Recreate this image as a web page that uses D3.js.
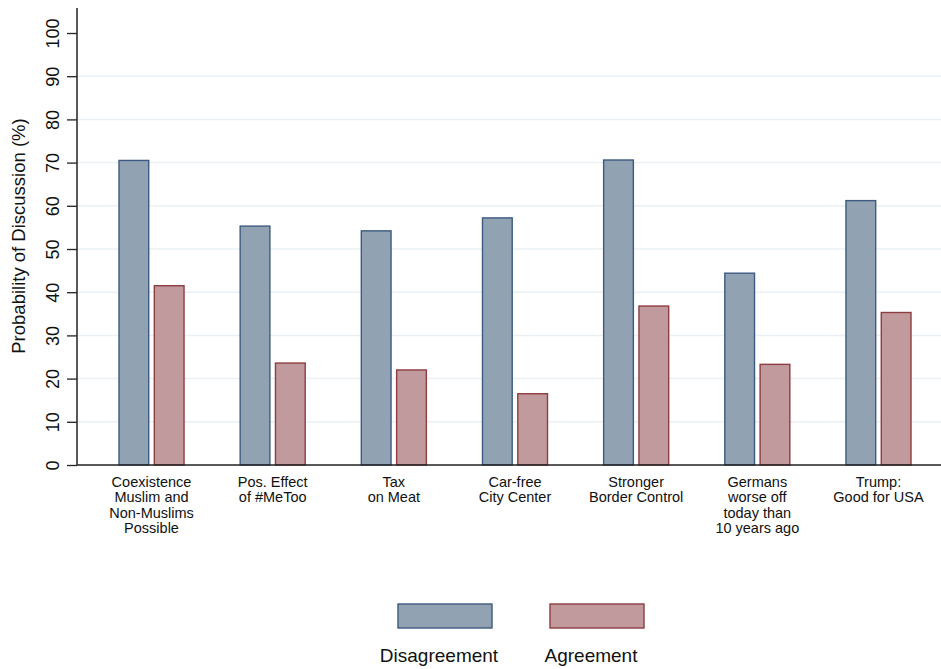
<!DOCTYPE html>
<html>
<head>
<meta charset="utf-8">
<script src="https://cdn.jsdelivr.net/npm/d3@7"></script>
<style>
  body { margin: 0; background: #fff; }
  svg { display: block; font-family: "Liberation Sans", Arial, Helvetica, sans-serif; }
</style>
</head>
<body>
<svg id="chart" width="941" height="669"></svg>
<script>
const categories = [
  ["Coexistence", "Muslim and", "Non-Muslims", "Possible"],
  ["Pos. Effect", "of #MeToo"],
  ["Tax", "on Meat"],
  ["Car-free", "City Center"],
  ["Stronger", "Border Control"],
  ["Germans", "worse off", "today than", "10 years ago"],
  ["Trump:", "Good for USA"]
];
const disagreement = [70.5, 55.3, 54.2, 57.2, 70.6, 44.4, 61.2];
const agreement = [41.5, 23.6, 22.0, 16.5, 36.8, 23.3, 35.3];
const seriesNames = ["Disagreement", "Agreement"];
const yTicks = [0, 10, 20, 30, 40, 50, 60, 70, 80, 90, 100];
const gridTicks = [10, 20, 30, 40, 50, 60, 70, 80, 90];

const fills = ["#91a2b3", "#c09a9c"];
const strokes = ["#3d5a80", "#8e3d42"];

const svg = d3.select("#chart");
const axisX = 77, baseY = 465, rightX = 941;

const y = d3.scaleLinear().domain([0, 100]).range([baseY, 33]);
const idx = d3.range(categories.length);
const x = d3.scaleBand().domain(idx).range([91, 939]).paddingInner(0.455).paddingOuter(0.227);
const xs = d3.scaleBand().domain([0, 1]).range([0, x.bandwidth()]).paddingInner(0.13);

// gridlines
svg.append("g").selectAll("line").data(gridTicks).join("line")
  .attr("x1", axisX).attr("x2", rightX)
  .attr("y1", d => y(d)).attr("y2", d => y(d))
  .attr("stroke", "#eaf0f3").attr("stroke-width", 1.5);

// bars
const data = idx.map(i => [disagreement[i], agreement[i]]);
const groups = svg.append("g").selectAll("g").data(data).join("g")
  .attr("transform", (d, i) => `translate(${x(i)},0)`);
groups.selectAll("rect").data(d => d.map((v, s) => ({v, s}))).join("rect")
  .attr("x", d => xs(d.s) + 0.5)
  .attr("width", xs.bandwidth() - 1)
  .attr("y", d => y(d.v))
  .attr("height", d => baseY - y(d.v))
  .attr("fill", d => fills[d.s])
  .attr("stroke", d => strokes[d.s])
  .attr("stroke-width", 1.4);

// y axis
const yAxis = d3.axisLeft(y).tickValues(yTicks).tickSize(10).tickPadding(0).tickFormat(d3.format("d"));
const gy = svg.append("g").attr("transform", `translate(${axisX},0)`).call(yAxis);
gy.select(".domain").remove();
gy.selectAll(".tick line").attr("stroke", "#222").attr("stroke-width", 1.3);
gy.selectAll(".tick text").remove();
gy.selectAll(".tick").append("text")
  .attr("transform", "translate(-18,0) rotate(-90)")
  .attr("text-anchor", "middle")
  .attr("fill", "#111")
  .style("font-size", "18px")
  .text(d => d);
svg.append("line").attr("x1", axisX).attr("x2", axisX).attr("y1", 8).attr("y2", baseY)
  .attr("stroke", "#222").attr("stroke-width", 1.5);

// x axis line
svg.append("line").attr("x1", axisX).attr("x2", rightX).attr("y1", baseY).attr("y2", baseY)
  .attr("stroke", "#222").attr("stroke-width", 1.5);

// y title
svg.append("text")
  .attr("transform", `translate(25,236) rotate(-90)`)
  .attr("text-anchor", "middle")
  .attr("fill", "#111")
  .style("font-size", "18.5px")
  .text("Probability of Discussion (%)");

// category labels
const labels = svg.append("g").selectAll("text").data(categories).join("text")
  .attr("x", (d, i) => x(i) + x.bandwidth() / 2)
  .attr("y", 487)
  .attr("text-anchor", "middle")
  .attr("fill", "#111")
  .style("font-size", "14.5px");
labels.selectAll("tspan").data(d => d).join("tspan")
  .attr("x", function() { return d3.select(this.parentNode).attr("x"); })
  .attr("dy", (d, j) => j === 0 ? 0 : 15.3)
  .text(d => d);

// legend
const legX = [398, 550];
const leg = svg.append("g").selectAll("g").data(seriesNames).join("g");
leg.append("rect")
  .attr("x", (d, i) => legX[i]).attr("y", 604)
  .attr("width", 94).attr("height", 24)
  .attr("fill", (d, i) => fills[i])
  .attr("stroke", (d, i) => strokes[i])
  .attr("stroke-width", 1.4);
leg.append("text")
  .attr("x", (d, i) => legX[i] + 41)
  .attr("y", 662)
  .attr("text-anchor", "middle")
  .attr("fill", "#111")
  .style("font-size", "19px")
  .text(d => d);
</script>
</body>
</html>
